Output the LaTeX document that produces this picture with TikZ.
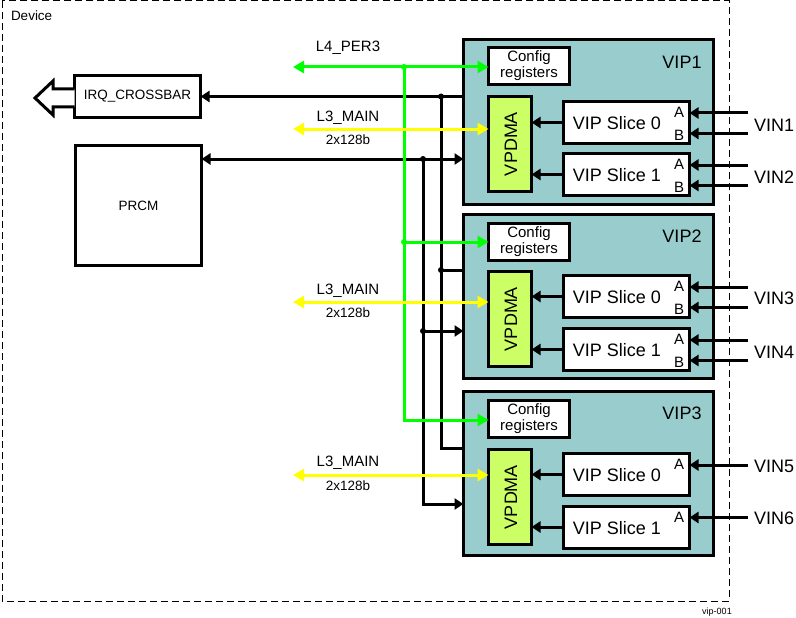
\documentclass[tikz,border=0pt]{standalone}
\usepackage{fontspec}
\setmainfont{Liberation Sans}
\usetikzlibrary{arrows.meta}
\definecolor{vipfill}{RGB}{153,204,204}
\definecolor{dmafill}{RGB}{204,255,102}
\definecolor{gbus}{RGB}{0,255,0}
\definecolor{ybus}{RGB}{255,255,0}
\begin{document}
\begin{tikzpicture}[x=1pt,y=-1pt,
  every node/.style={inner sep=0pt, outer sep=0pt},
  bbox/.style={draw, line width=3pt, fill=white},
  vipbox/.style={draw, line width=3pt, fill=vipfill, minimum width=250pt, minimum height=164pt},
  cfgbox/.style={bbox, minimum width=81pt, minimum height=37pt, align=center, font=\fontsize{15}{16}\selectfont},
  dmabox/.style={bbox, fill=dmafill, minimum width=43pt, minimum height=95pt},
  slicebox/.style={bbox, minimum width=126pt, minimum height=42pt},
  bigtxt/.style={font=\fontsize{18}{18}\selectfont},
  abtxt/.style={font=\fontsize{15}{15}\selectfont},
  midtxt/.style={font=\fontsize{15}{15}\selectfont},
  smalltxt/.style={font=\fontsize{13.5}{14}\selectfont},
  blk/.style={draw=black, line width=3pt},
  btip/.style={-{Triangle[length=9pt,width=11pt]}},
  gline/.style={draw=gbus, line width=3pt, {Triangle[length=11pt,width=12pt]}-{Triangle[length=11pt,width=12pt]}},
  garr/.style={draw=gbus, line width=3pt, -{Triangle[length=11pt,width=12pt]}},
  yline/.style={draw=ybus, line width=3pt, {Triangle[length=11pt,width=12pt]}-{Triangle[length=11pt,width=12pt]}},
]
\useasboundingbox (0,0) rectangle (796,618);

% device border
\draw[line width=1pt, dash pattern=on 7pt off 4pt] (2,1) rectangle (729,601);
\node[smalltxt, anchor=west] (dev) at (11,16) {Device};
\node[font=\fontsize{9}{9}\selectfont] (tag) at (717,612) {vip-001};

% left blocks
\node[bbox, minimum width=126pt, minimum height=42pt, smalltxt] (irq) at (137.5,96.5) {IRQ\_CROSSBAR};
\node[bbox, minimum width=126pt, minimum height=120pt, smalltxt] (prcm) at (138.5,205.5) {PRCM};
\draw[line width=3pt, fill=white, line join=miter] (irq.west |- 0,89) -- (53,89) -- (53,81) -- (35,98) -- (53,115) -- (53,107) -- (irq.west |- 0,107);

% VIP blocks
\foreach \i/\vy/\cy/\dy/\sa/\sb in {1/122/66/144/122.5/174.5, 2/296.5/242/319/296.5/349.5, 3/473.5/419/497/474.5/527} {
  \node[vipbox] (vip\i) at (588.5,\vy) {};
  \node[bigtxt] (vipl\i) at (682,\vy-60) {VIP\i};
  \node[cfgbox] (cfg\i) at (529,\cy) {Config\\registers};
  \node[dmabox] (dma\i) at (510,\dy) {};
  \node[bigtxt, rotate=90] (dmat\i) at (511,\dy) {VPDMA};
  \node[slicebox] (s\i a) at (626.5,\sa) {};
  \node[bigtxt] (s\i at) at (617,\sa+1) {VIP Slice 0};
  \node[slicebox] (s\i b) at (626.5,\sb) {};
  \node[bigtxt] (s\i bt) at (617,\sb+1) {VIP Slice 1};
  \draw[blk, btip] (s\i a.west) -- (s\i a.west -| dma\i.east);
  \draw[blk, btip] (s\i b.west) -- (s\i b.west -| dma\i.east);
  \node[abtxt] (s\i aA) at (679,\sa-10) {A};
  \node[abtxt] (s\i bA) at (679,\sb-10) {A};
  \coordinate (in\i aA) at (748,\sa-9.5);
  \coordinate (in\i bA) at (748,\sb-9.5);
  \draw[blk, btip] (in\i aA) -- (in\i aA -| s\i a.east);
  \draw[blk, btip] (in\i bA) -- (in\i bA -| s\i b.east);
}
\foreach \i/\sa/\sb in {1/122.5/174.5, 2/296.5/349.5} {
  \node[abtxt] (s\i aB) at (679,\sa+12.5) {B};
  \node[abtxt] (s\i bB) at (679,\sb+12.5) {B};
  \coordinate (in\i aB) at (748,\sa+11);
  \coordinate (in\i bB) at (748,\sb+11);
  \draw[blk, btip] (in\i aB) -- (in\i aB -| s\i a.east);
  \draw[blk, btip] (in\i bB) -- (in\i bB -| s\i b.east);
}
\node[bigtxt, anchor=west] (vin1) at (754,125) {VIN1};
\node[bigtxt, anchor=west] (vin2) at (754,177) {VIN2};
\node[bigtxt, anchor=west] (vin3) at (754,298) {VIN3};
\node[bigtxt, anchor=west] (vin4) at (754,352) {VIN4};
\node[bigtxt, anchor=west] (vin5) at (754,466) {VIN5};
\node[bigtxt, anchor=west] (vin6) at (754,518) {VIN6};

% IRQ lines
\coordinate (irqj) at (441,96.5);
\coordinate (irqm) at (441,270);
\coordinate (irqb) at (441,448);
\draw[blk, btip] (irqj -| vip1.west) -- (irq.east);
\draw[blk] (irqj) -- (irqb) -- (irqb -| vip3.west);
\draw[blk] (irqm) -- (irqm -| vip2.west);
\fill (irqj) circle (3pt);
\fill (irqm) circle (3pt);

% PRCM lines
\coordinate (pj) at (423,159);
\coordinate (pm) at (423,331);
\coordinate (pb) at (423,504);
\draw[blk, {Triangle[length=9pt,width=11pt]}-{Triangle[length=9pt,width=11pt]}] (pj -| prcm.east) -- (pj -| vip1.west);
\draw[blk, btip] (pm) -- (pm -| vip2.west);
\draw[blk, btip] (pj) -- (pb) -- (pb -| vip3.west);
\fill (pj) circle (3pt);
\fill (pm) circle (3pt);

% L4_PER3 green bus
\coordinate (gl) at (293,67);
\coordinate (gj) at (404,67);
\coordinate (gm) at (404,242);
\coordinate (gb) at (404,420);
\draw[gline] (gl) -- (gl -| cfg1.west);
\draw[garr] (gj) -- (gb) -- (gb -| cfg3.west);
\draw[garr] (gm) -- (gm -| cfg2.west);
\fill[gbus] (gj) circle (3pt);
\fill[gbus] (gm) circle (3pt);
\node[midtxt] (l4) at (348,48) {L4\_PER3};

% L3_MAIN yellow buses
\coordinate (ya) at (293,129);
\coordinate (yb) at (293,302);
\coordinate (yc) at (293,475);
\draw[yline] (ya) -- (ya -| dma1.west);
\draw[yline] (yb) -- (yb -| dma2.west);
\draw[yline] (yc) -- (yc -| dma3.west);
\node[midtxt] (l3a) at (348,118) {L3\_MAIN};
\node[smalltxt] (wa) at (348,140) {2x128b};
\node[midtxt] (l3b) at (348,291) {L3\_MAIN};
\node[smalltxt] (wb) at (348,313) {2x128b};
\node[midtxt] (l3c) at (348,463) {L3\_MAIN};
\node[smalltxt] (wc) at (348,486) {2x128b};
\end{tikzpicture}
\end{document}
